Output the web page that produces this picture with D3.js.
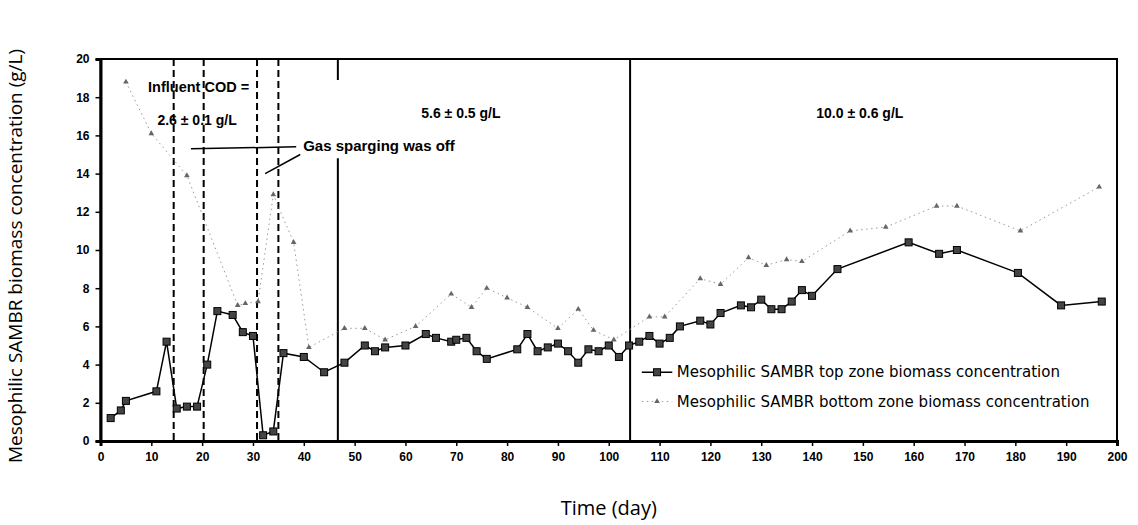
<!DOCTYPE html>
<html>
<head>
<meta charset="utf-8">
<script src="https://cdn.jsdelivr.net/npm/d3@7"></script>
<style>
  body { margin: 0; background: #fff; }
  svg { display: block; }
</style>
</head>
<body>
<div id="chart"></div>
<script>
// top zone biomass (day, g/L)
var topDays = [2,4,5,11,13,15,17,19,21,23,26,28,30,32,34,36,40,44,48,52,54,56,60,64,66,69,70,72,74,76,82,84,86,88,90,92,94,96,98,100,102,104,106,108,110,112,114,118,120,122,126,128,130,132,134,136,138,140,145,159,165,168.5,180.5,189,197];
var topVals = [1.2,1.6,2.1,2.6,5.2,1.7,1.8,1.8,4.0,6.8,6.6,5.7,5.5,0.3,0.5,4.6,4.4,3.6,4.1,5.0,4.7,4.9,5.0,5.6,5.4,5.2,5.3,5.4,4.7,4.3,4.8,5.6,4.7,4.9,5.1,4.7,4.1,4.8,4.7,5.0,4.4,5.0,5.2,5.5,5.1,5.4,6.0,6.3,6.1,6.7,7.1,7.0,7.4,6.9,6.9,7.3,7.9,7.6,9.0,10.4,9.8,10.0,8.8,7.1,7.3];

// bottom zone biomass (day, g/L)
var botDays = [5,10,17,27,28.5,31,34,38,41,48,52,56,62,69,73,76,80,84,90,94,97,101,108,111,118,122,127.5,131,135,138,147.5,154.5,164.5,168.5,181,196.5];
var botVals = [18.8,16.1,13.9,7.1,7.2,7.3,12.9,10.4,4.9,5.9,5.9,5.3,6.0,7.7,7.0,8.0,7.5,7.0,5.9,6.9,5.8,5.3,6.5,6.5,8.5,8.2,9.6,9.2,9.5,9.4,11.0,11.2,12.3,12.3,11.0,13.3];

var dashedDays = [14.4, 20.3, 30.8, 35.0];   // gas sparging off / COD periods
var solidDays = [46.7, 104.2];               // influent COD changes
var xTicks = d3.range(0, 201, 10);
var yTicks = d3.range(0, 21, 2);
var seriesNames = ["Mesophilic SAMBR top zone biomass concentration",
                   "Mesophilic SAMBR bottom zone biomass concentration"];

var svg = d3.select("#chart").append("svg")
  .attr("width", 1138)
  .attr("height", 525);

var margin = {top: 59, right: 21, bottom: 84, left: 100.5},
  width = 1138 - margin.left - margin.right,
  height = 525 - margin.top - margin.bottom;

var x = d3.scaleLinear().domain([0, 200]).range([margin.left, margin.left + width]);
var y = d3.scaleLinear().domain([0, 20]).range([margin.top + height, margin.top]);

var tickFont = "'Liberation Sans', Arial, sans-serif";

// frame
svg.append("rect")
  .attr("x", x(0)).attr("y", y(20))
  .attr("width", x(200) - x(0)).attr("height", y(0) - y(20))
  .attr("fill", "none").attr("stroke", "#000").attr("stroke-width", 2);

// axes
var xAxis = svg.append("g")
  .attr("transform", "translate(0," + y(0) + ")")
  .call(d3.axisBottom(x).tickValues(xTicks).tickSize(5).tickPadding(6));
var yAxis = svg.append("g")
  .attr("transform", "translate(" + x(0) + ",0)")
  .call(d3.axisLeft(y).tickValues(yTicks).tickSize(5).tickPadding(6));

[xAxis, yAxis].forEach(function(a) {
  a.select(".domain").attr("stroke-width", 3);
  a.selectAll(".tick line").attr("stroke-width", 1.5);
  a.selectAll("text")
    .style("font-family", tickFont)
    .style("font-weight", "bold")
    .style("font-size", "12px")
    .attr("fill", "#000");
});

// white box behind the gas sparging note
svg.append("rect")
  .attr("x", x(39.5)).attr("y", y(18.9))
  .attr("width", x(70.5) - x(39.5)).attr("height", y(14.8) - y(18.9))
  .attr("fill", "#fff");

// vertical period lines
svg.selectAll(".dash-line")
  .data(dashedDays)
  .enter()
  .append("line")
  .attr("class", "dash-line")
  .attr("x1", function(d) { return x(d); })
  .attr("x2", function(d) { return x(d); })
  .attr("y1", y(20))
  .attr("y2", y(0))
  .attr("stroke", "#000")
  .attr("stroke-width", 2)
  .attr("stroke-dasharray", "7,4");

svg.selectAll(".solid-line")
  .data(solidDays)
  .enter()
  .append("line")
  .attr("class", "solid-line")
  .attr("x1", function(d) { return x(d); })
  .attr("x2", function(d) { return x(d); })
  .attr("y1", function(d, i) { return i == 0 ? y(14.8) : y(20); })
  .attr("y2", y(0))
  .attr("stroke", "#000")
  .attr("stroke-width", 2);
svg.append("line")
  .attr("x1", x(solidDays[0])).attr("x2", x(solidDays[0]))
  .attr("y1", y(20)).attr("y2", y(18.9))
  .attr("stroke", "#000").attr("stroke-width", 2);

var botData = botDays.map(function(d, i) { return [d, botVals[i]]; });
var topData = topDays.map(function(d, i) { return [d, topVals[i]]; });

var line = d3.line()
  .x(function(d) { return x(d[0]); })
  .y(function(d) { return y(d[1]); });

// bottom zone series
svg.append("path")
  .datum(botData)
  .attr("d", line)
  .attr("fill", "none")
  .attr("stroke", "#999")
  .attr("stroke-width", 1)
  .attr("stroke-dasharray", "1.5,3.5");

var tri = d3.symbol().type(d3.symbolTriangle).size(14);
svg.selectAll(".bot-pt")
  .data(botData)
  .enter()
  .append("path")
  .attr("class", "bot-pt")
  .attr("d", tri)
  .attr("transform", function(d) { return "translate(" + x(d[0]) + "," + y(d[1]) + ")"; })
  .attr("fill", "#666");

// top zone series
svg.append("path")
  .datum(topData)
  .attr("d", line)
  .attr("fill", "none")
  .attr("stroke", "#000")
  .attr("stroke-width", 1.5);

svg.selectAll(".top-pt")
  .data(topData)
  .enter()
  .append("rect")
  .attr("class", "top-pt")
  .attr("x", function(d) { return x(d[0]) - 3.5; })
  .attr("y", function(d) { return y(d[1]) - 3.5; })
  .attr("width", 7)
  .attr("height", 7)
  .attr("fill", "#444")
  .attr("stroke", "#000")
  .attr("stroke-width", 1);

// annotations
function note(txt, day, val, size) {
  svg.append("text")
    .attr("x", x(day))
    .attr("y", y(val))
    .attr("text-anchor", "middle")
    .attr("dy", "0.35em")
    .style("font-family", tickFont)
    .style("font-weight", "bold")
    .style("font-size", size + "px")
    .text(txt);
}
note("Influent COD =", 19.3, 18.55, 14.5);
note("2.6 \u00b1 0.1 g/L", 19, 16.8, 14);
note("5.6 \u00b1 0.5 g/L", 70.9, 17.15, 14);
note("10.0 \u00b1 0.6 g/L", 149.4, 17.15, 14);
note("Gas sparging was off", 54.8, 15.45, 15);

svg.append("line")
  .attr("x1", x(17.8)).attr("y1", y(15.3))
  .attr("x2", x(38.5)).attr("y2", y(15.4))
  .attr("stroke", "#000").attr("stroke-width", 1.5);
svg.append("line")
  .attr("x1", x(39.3)).attr("y1", y(15.0))
  .attr("x2", x(32.4)).attr("y2", y(14.0))
  .attr("stroke", "#000").attr("stroke-width", 1.5);

// legend
var legend = svg.append("g");
legend.append("line")
  .attr("x1", x(106.5)).attr("x2", x(112.5))
  .attr("y1", y(3.6)).attr("y2", y(3.6))
  .attr("stroke", "#000").attr("stroke-width", 1.5);
legend.append("rect")
  .attr("x", x(109.5) - 3.5).attr("y", y(3.6) - 3.5)
  .attr("width", 7).attr("height", 7)
  .attr("fill", "#444").attr("stroke", "#000");
legend.append("line")
  .attr("x1", x(106.5)).attr("x2", x(112.5))
  .attr("y1", y(2.07)).attr("y2", y(2.07))
  .attr("stroke", "#999").attr("stroke-width", 1)
  .attr("stroke-dasharray", "1.5,3.5");
legend.append("path")
  .attr("d", tri)
  .attr("transform", "translate(" + x(109.5) + "," + y(2.07) + ")")
  .attr("fill", "#666");
legend.selectAll("text")
  .data(seriesNames)
  .enter()
  .append("text")
  .attr("x", x(113.4))
  .attr("y", function(d, i) { return i == 0 ? y(3.6) : y(2.07); })
  .attr("dy", "0.35em")
  .style("font-family", "'DejaVu Sans', sans-serif")
  .style("font-size", "15px")
  .text(function(d) { return d; });

// axis titles
svg.append("text")
  .attr("transform", "translate(22,256) rotate(-90)")
  .attr("text-anchor", "middle")
  .style("font-family", "'Open Sans', sans-serif")
  .style("font-size", "19px")
  .text("Mesophilic SAMBR biomass concentration (g/L)");

svg.append("text")
  .attr("x", x(100))
  .attr("y", 515)
  .attr("text-anchor", "middle")
  .style("font-family", "'Open Sans', sans-serif")
  .style("font-size", "20px")
  .text("Time (day)");
</script>
</body>
</html>
